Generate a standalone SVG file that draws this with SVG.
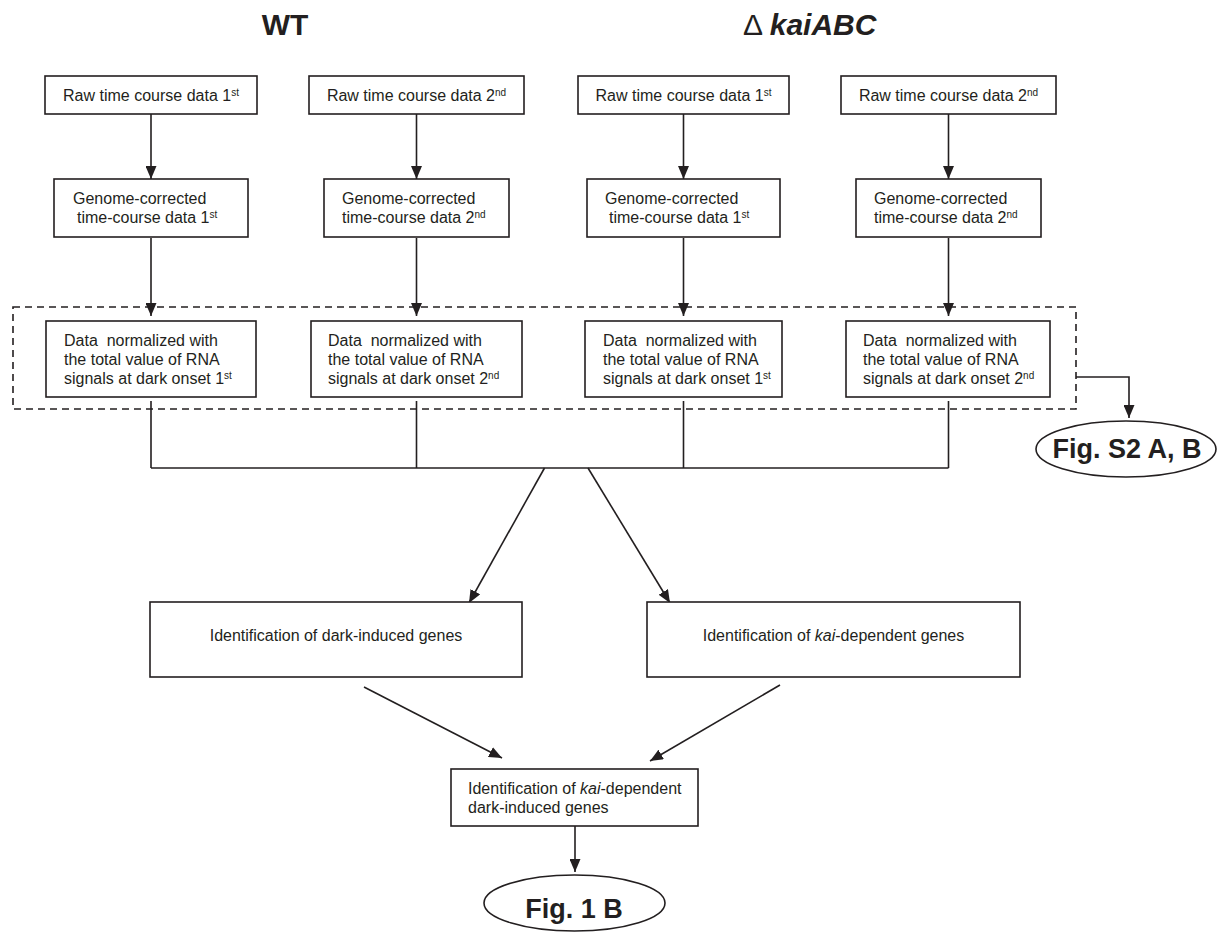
<svg xmlns="http://www.w3.org/2000/svg" width="1220" height="932" viewBox="0 0 1220 932">
<style>
  .box{fill:#fff;stroke:#231f20;stroke-width:1.6}
  .t{font-family:"Liberation Sans",Arial,sans-serif;font-size:16px;fill:#231f20}
  .c{text-anchor:middle}
  .sup{font-size:10px}
  .hd{font-family:"Liberation Sans",Arial,sans-serif;font-size:30px;fill:#231f20}
  .fig{font-family:"Liberation Sans",Arial,sans-serif;font-size:27px;font-weight:bold;fill:#231f20;text-anchor:middle}
  .ln{fill:none;stroke:#231f20;stroke-width:1.6}
  .arr{fill:none;stroke:#231f20;stroke-width:1.6;marker-end:url(#ah)}
  .dash{fill:none;stroke:#231f20;stroke-width:1.6;stroke-dasharray:7 5}
</style>
<defs>
  <marker id="ah" viewBox="0 0 13 11" refX="13" refY="5.5" markerWidth="13" markerHeight="11" markerUnits="userSpaceOnUse" orient="auto">
    <path d="M0,0 L13,5.5 L0,11 Z" fill="#231f20"/>
  </marker>
</defs>
<rect width="1220" height="932" fill="#fff"/>

<g id="headers">
  <text class="hd c" x="285" y="35" font-weight="bold">WT</text>
  <text class="hd" x="743" y="35">Δ <tspan font-weight="bold" font-style="italic">kaiABC</tspan></text>
</g>

<g id="connectors">
  <path class="arr" d="M151 114 V179"/>
  <path class="arr" d="M416.5 114 V179"/>
  <path class="arr" d="M683.5 114 V179"/>
  <path class="arr" d="M948.5 114 V179"/>
  <path class="arr" d="M151 238 V316"/>
  <path class="arr" d="M416.5 238 V316"/>
  <path class="arr" d="M683.5 238 V316"/>
  <path class="arr" d="M948.5 238 V316"/>
  <path class="ln" d="M151 401 V468 M416.5 401 V468 M683.5 401 V468 M948.5 401 V468"/>
  <path class="ln" d="M151 468 H948.5" stroke-width="2.2"/>
  <path class="arr" d="M544.5 468 L469 603"/>
  <path class="arr" d="M588 468 L670 603"/>
  <path class="arr" d="M364 687 L502 758"/>
  <path class="arr" d="M780 685 L650 761"/>
  <path class="arr" d="M575 826 V872"/>
  <path class="arr" d="M1076 377 H1129 V418"/>
</g>

<g id="dashed-group">
  <rect class="dash" x="13" y="307" width="1063" height="102"/>
</g>

<g id="raw-wt-1">
  <rect class="box" x="45" y="76" width="212" height="38"/>
  <text class="t c" x="151" y="101">Raw time course data 1<tspan class="sup" dy="-5">st</tspan></text>
</g>
<g id="raw-wt-2">
  <rect class="box" x="309" y="76" width="215" height="38"/>
  <text class="t c" x="416.5" y="101">Raw time course data 2<tspan class="sup" dy="-5">nd</tspan></text>
</g>
<g id="raw-kai-1">
  <rect class="box" x="578" y="76" width="211" height="38"/>
  <text class="t c" x="683.5" y="101">Raw time course data 1<tspan class="sup" dy="-5">st</tspan></text>
</g>
<g id="raw-kai-2">
  <rect class="box" x="841" y="76" width="215" height="38"/>
  <text class="t c" x="948.5" y="101">Raw time course data 2<tspan class="sup" dy="-5">nd</tspan></text>
</g>

<g id="genome-wt-1">
  <rect class="box" x="54" y="179" width="194" height="58"/>
  <text class="t" x="73" y="204">Genome-corrected</text>
  <text class="t" x="77" y="223">time-course data 1<tspan class="sup" dy="-5">st</tspan></text>
</g>
<g id="genome-wt-2">
  <rect class="box" x="324" y="179" width="185" height="58"/>
  <text class="t" x="342" y="204">Genome-corrected</text>
  <text class="t" x="342" y="223">time-course data 2<tspan class="sup" dy="-5">nd</tspan></text>
</g>
<g id="genome-kai-1">
  <rect class="box" x="587" y="179" width="193" height="58"/>
  <text class="t" x="605" y="204">Genome-corrected</text>
  <text class="t" x="609" y="223">time-course data 1<tspan class="sup" dy="-5">st</tspan></text>
</g>
<g id="genome-kai-2">
  <rect class="box" x="856" y="179" width="185" height="58"/>
  <text class="t" x="874" y="204">Genome-corrected</text>
  <text class="t" x="874" y="223">time-course data 2<tspan class="sup" dy="-5">nd</tspan></text>
</g>

<g id="norm-wt-1">
  <rect class="box" x="46" y="321" width="210" height="76"/>
  <text class="t" x="64" y="346" xml:space="preserve">Data  normalized with</text>
  <text class="t" x="64" y="365">the total value of RNA</text>
  <text class="t" x="64" y="384">signals at dark onset 1<tspan class="sup" dy="-5">st</tspan></text>
</g>
<g id="norm-wt-2">
  <rect class="box" x="311" y="321" width="211" height="76"/>
  <text class="t" x="328" y="346" xml:space="preserve">Data  normalized with</text>
  <text class="t" x="328" y="365">the total value of RNA</text>
  <text class="t" x="328" y="384">signals at dark onset 2<tspan class="sup" dy="-5">nd</tspan></text>
</g>
<g id="norm-kai-1">
  <rect class="box" x="585" y="321" width="197" height="76"/>
  <text class="t" x="603" y="346" xml:space="preserve">Data  normalized with</text>
  <text class="t" x="603" y="365">the total value of RNA</text>
  <text class="t" x="603" y="384">signals at dark onset 1<tspan class="sup" dy="-5">st</tspan></text>
</g>
<g id="norm-kai-2">
  <rect class="box" x="846" y="321" width="204" height="76"/>
  <text class="t" x="863" y="346" xml:space="preserve">Data  normalized with</text>
  <text class="t" x="863" y="365">the total value of RNA</text>
  <text class="t" x="863" y="384">signals at dark onset 2<tspan class="sup" dy="-5">nd</tspan></text>
</g>

<g id="dark-induced">
  <rect class="box" x="150" y="602" width="372" height="75"/>
  <text class="t c" x="336" y="641">Identification of dark-induced genes</text>
</g>
<g id="kai-dependent">
  <rect class="box" x="647" y="602" width="373" height="75"/>
  <text class="t c" x="833.5" y="641">Identification of <tspan font-style="italic">kai</tspan>-dependent genes</text>
</g>
<g id="kai-dark">
  <rect class="box" x="451" y="769" width="247" height="57"/>
  <text class="t" x="468" y="794">Identification of <tspan font-style="italic">kai</tspan>-dependent</text>
  <text class="t" x="468" y="813">dark-induced genes</text>
</g>

<g id="fig-s2">
  <ellipse class="box" cx="1126" cy="449" rx="90" ry="28"/>
  <text class="fig" x="1127" y="458">Fig. S2 A, B</text>
</g>
<g id="fig-1b">
  <ellipse class="box" cx="574.5" cy="903" rx="90.5" ry="28"/>
  <text class="fig" x="574" y="918">Fig. 1 B</text>
</g>
</svg>
